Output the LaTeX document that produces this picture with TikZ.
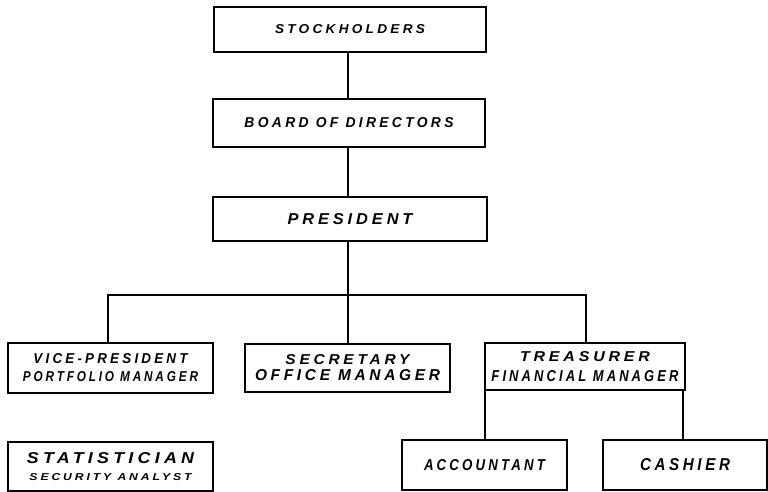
\documentclass[tikz,border=0pt]{standalone}
\usepackage{fontspec}
\usepackage{graphicx}
\setmainfont{Liberation Sans}
\newcommand{\hw}[3]{\resizebox{#1pt}{#2pt}{\bfseries\itshape\addfontfeature{LetterSpace=24}#3}}
\begin{document}
\begin{tikzpicture}[x=1pt,y=-1pt,
  box/.style={draw, line width=1.5pt, rectangle, inner sep=0pt, outer sep=0pt, align=center},
  wire/.style={line width=1.4pt}]
\useasboundingbox (0,0) rectangle (768,492);
\fill[white] (0,0) rectangle (768,492);
\node[box, minimum width=272pt, minimum height=45pt] (stock) at (350,29.5) {\hw{150}{9}{STOCKHOLDERS}};
\node[box, minimum width=272pt, minimum height=48pt] (board) at (349,123) {\hw{209}{10}{BOARD OF DIRECTORS}};
\node[box, minimum width=274pt, minimum height=44pt] (pres) at (350,219) {\hw{125}{11}{PRESIDENT}};
\node[box, minimum width=205pt, minimum height=50pt] (vp) at (110.5,368) {\hw{154}{10}{VICE-PRESIDENT}\\[6pt]\hw{175}{10}{PORTFOLIO MANAGER}};
\node[box, minimum width=205pt, minimum height=48pt] (sec) at (347.5,368) {\hw{124}{10}{SECRETARY}\\[4pt]\hw{185}{11}{OFFICE MANAGER}};
\node[box, minimum width=200pt, minimum height=47pt] (tre) at (585,366.5) {\hw{130}{10}{TREASURER}\\[8pt]\hw{187}{11}{FINANCIAL MANAGER}};
\node[box, minimum width=205pt, minimum height=49pt] (stat) at (110.5,466.5) {\hw{167}{11}{STATISTICIAN}\\[5pt]\hw{162}{7}{SECURITY ANALYST}};
\node[box, minimum width=165pt, minimum height=50pt] (acc) at (484.5,465) {\hw{121}{11}{ACCOUNTANT}};
\node[box, minimum width=164pt, minimum height=50pt] (cash) at (685,465) {\hw{90}{12}{CASHIER}};
\coordinate (busL) at (108,295);
\coordinate (busM) at (348,295);
\coordinate (busR) at (586,295);
\draw[wire] (stock.south -| busM) -- (board.north -| busM);
\draw[wire] (board.south -| busM) -- (pres.north -| busM);
\draw[wire] (pres.south -| busM) -- (sec.north -| busM);
\draw[wire] (vp.north -| busL) -- (busL) -- (busR) -- (tre.north -| busR);
\draw[wire] (tre.south west) -- (tre.south west |- acc.north);
\draw[wire] ([xshift=-2pt]tre.south east) -- ([xshift=-2pt]tre.south east |- cash.north);
\end{tikzpicture}
\end{document}
